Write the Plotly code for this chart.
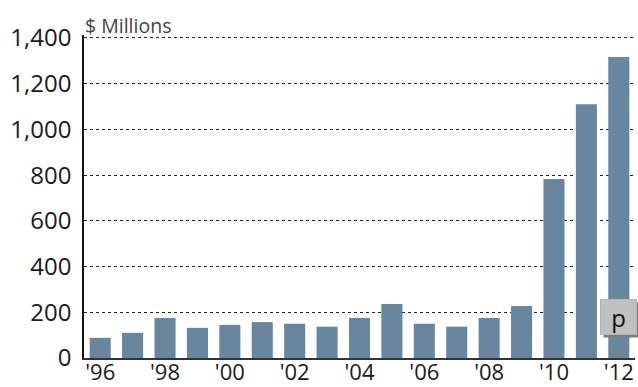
import plotly.graph_objects as go

# Annual values, $ millions (2012 is preliminary)
years = ["'96", "'97", "'98", "'99", "'00", "'01", "'02", "'03", "'04",
         "'05", "'06", "'07", "'08", "'09", "'10", "'11", "'12"]
values = [88, 110, 175, 132, 145, 157, 150, 137, 175,
          236, 150, 137, 175, 228, 783, 1110, 1317]
tick_labels = ["'96", "'98", "'00", "'02", "'04", "'06", "'08", "'10", "'12"]
y_ticks = [0, 200, 400, 600, 800, 1000, 1200, 1400]

FONT = "Open Sans, Noto Sans, sans-serif"
BAR = "#68879f"

fig = go.Figure()
fig.add_trace(go.Bar(
    x=years, y=values,
    marker=dict(color=BAR, line=dict(width=0)),
    hoverinfo="skip",
))

# preliminary marker with drop shadow on the last bar
fig.add_annotation(x=years[-1], y=180, xref="x", yref="y", text="",
                   showarrow=False, width=33, height=32,
                   bgcolor="#7d7d7d", xshift=3, yshift=-3)
fig.add_annotation(x=years[-1], y=180, xref="x", yref="y", text="p",
                   showarrow=False, width=33, height=32,
                   bgcolor="#c0c0c0", bordercolor="#b5b5b5", borderwidth=1,
                   font=dict(family=FONT, size=24, color="#111"))

fig.add_annotation(x=0, y=1400, xref="paper", yref="y", text="$ Millions",
                   showarrow=False, xanchor="left", yanchor="bottom",
                   xshift=-1, yshift=-3,
                   font=dict(family=FONT, size=19.5, color="#444"))

fig.update_layout(
    width=638, height=387,
    margin=dict(l=84, r=3, t=35, b=29, autoexpand=False),
    paper_bgcolor="white", plot_bgcolor="white",
    bargap=0.35, showlegend=False,
    font=dict(family=FONT, size=24, color="#1a1a1a"),
)
fig.update_xaxes(
    type="category", range=[-0.5, 16.5], automargin=False,
    tickmode="array", tickvals=tick_labels, ticktext=tick_labels,
    showline=True, linecolor="#333", linewidth=2,
    ticks="", ticklen=0, showgrid=False, tickfont=dict(size=22),
    ticklabelstandoff=-6,
)
fig.update_yaxes(
    range=[0, 1413], automargin=False, tickmode="array", tickvals=y_ticks,
    tickformat=",d",
    showline=True, linecolor="#111", linewidth=1.5,
    showgrid=True, gridcolor="#222", gridwidth=1, griddash="dot",
    zeroline=False, ticks="", ticklen=0, ticklabelstandoff=6,
    tickfont=dict(size=24),
)

fig.write_html("out.html")
